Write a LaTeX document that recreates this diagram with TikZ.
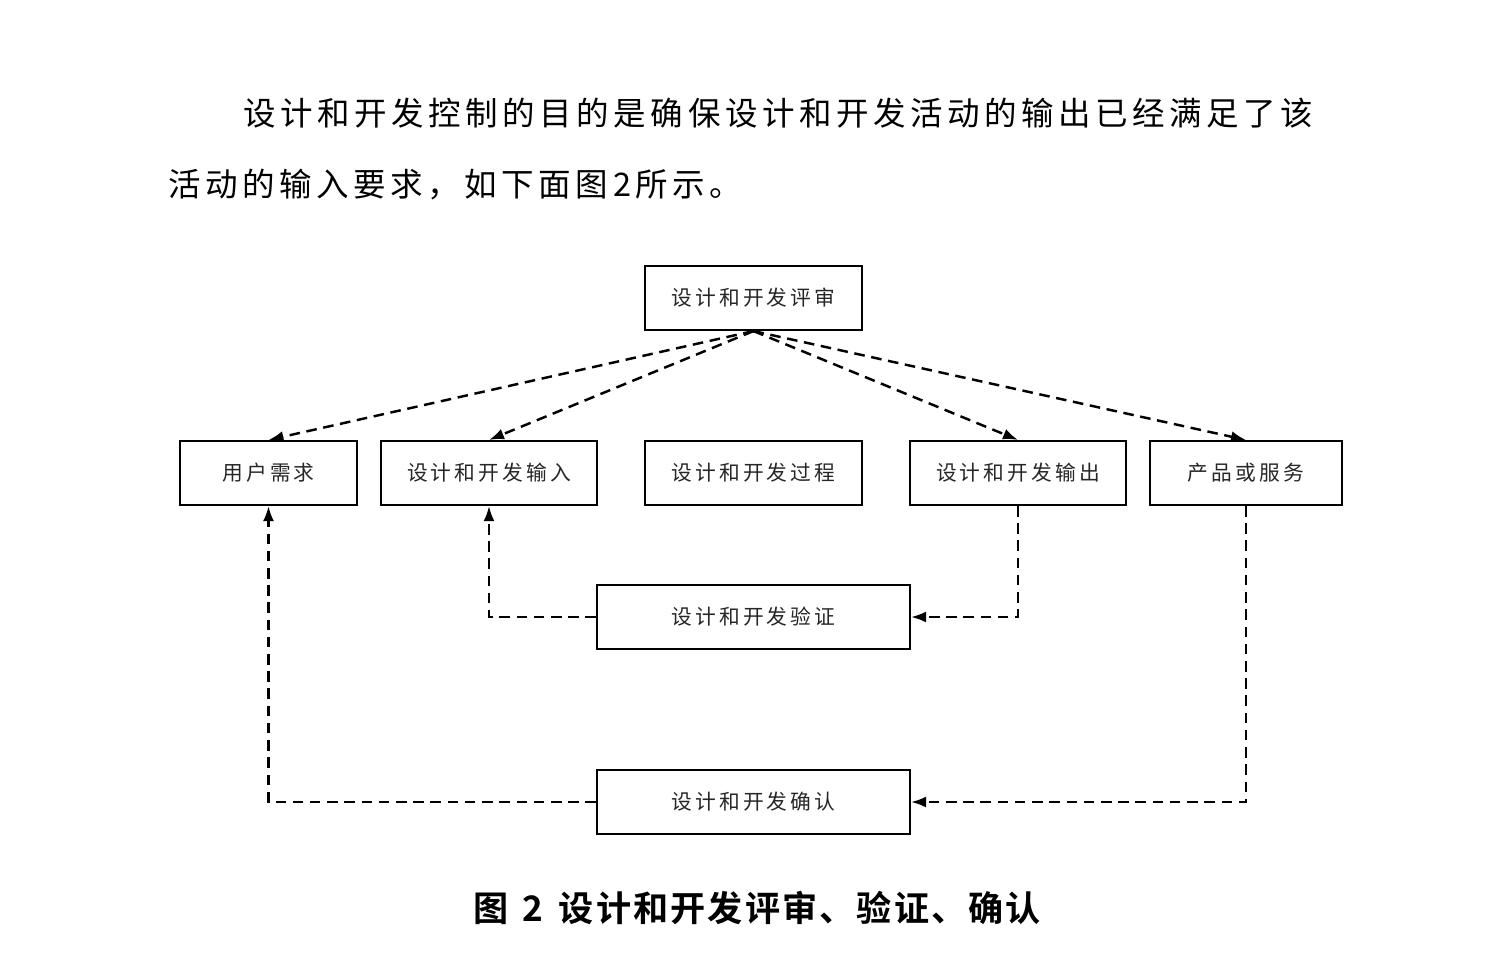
\documentclass[tikz,border=0pt]{standalone}
\usepackage{fontspec}
\usepackage{tikz}
\usetikzlibrary{arrows.meta,positioning}
\newfontfamily\cjk{Noto Sans CJK SC}
\newfontfamily\cjkbox[LetterSpace=15]{Noto Sans CJK SC}
\newfontfamily\cjkpara[LetterSpace=14]{Noto Sans CJK SC}
\newfontfamily\cjktitle[LetterSpace=6]{Noto Sans CJK SC Bold}
\tikzset{
  box/.style={draw,line width=1.2pt,minimum height=1.28cm,inner sep=0pt,font=\cjkbox\fontsize{11.8pt}{14pt}\selectfont,text=black!85},
  darr/.style={-{Latex[length=3mm,width=2.2mm]},line width=1.4pt,dash pattern=on 6pt off 3.8pt},
  para/.style={anchor=west,inner sep=0pt,font=\cjkpara\fontsize{18.5pt}{22pt}\selectfont}
}
\begin{document}
\begin{tikzpicture}[x=0.02cm,y=-0.02cm]
  \useasboundingbox (0,0) rectangle (1490,964);
  % lead-in text
  \node[para] (line1) at (243,113) {设计和开发控制的目的是确保设计和开发活动的输出已经满足了该};
  \node[para] (line2) at (168,185) {活动的输入要求，如下面图2所示。};
  % boxes
  \node[box,minimum width=4.34cm] (review) at (753.5,298) {设计和开发评审};
  \node[box,minimum width=3.54cm] (user) at (268.5,473) {用户需求};
  \node[box,minimum width=4.32cm] (input) at (489,473) {设计和开发输入};
  \node[box,minimum width=4.34cm] (process) at (753.5,473) {设计和开发过程};
  \node[box,minimum width=4.32cm] (output) at (1018,473) {设计和开发输出};
  \node[box,minimum width=3.84cm] (product) at (1246,473) {产品或服务};
  \node[box,minimum width=6.26cm] (verify) at (753.5,617) {设计和开发验证};
  \node[box,minimum width=6.26cm] (confirm) at (753.5,802) {设计和开发确认};
  % review arrows
  \foreach \t in {user,input,output,product}
    \draw[darr] (review.south) -- (\t.north);
  % verification loop
  \draw[darr] (output.south) |- (verify.east);
  \draw[darr] (verify.west) -| (input.south);
  % validation loop
  \draw[darr] (product.south) |- (confirm.east);
  \draw[darr] (confirm.west) -| (user.south);
  % caption
  \node[font=\cjktitle\fontsize{20pt}{24pt}\selectfont] (caption) at (757,908) {图\hspace{0.4em}2\hspace{0.45em}设计和开发评审、验证、确认};
\end{tikzpicture}
\end{document}
